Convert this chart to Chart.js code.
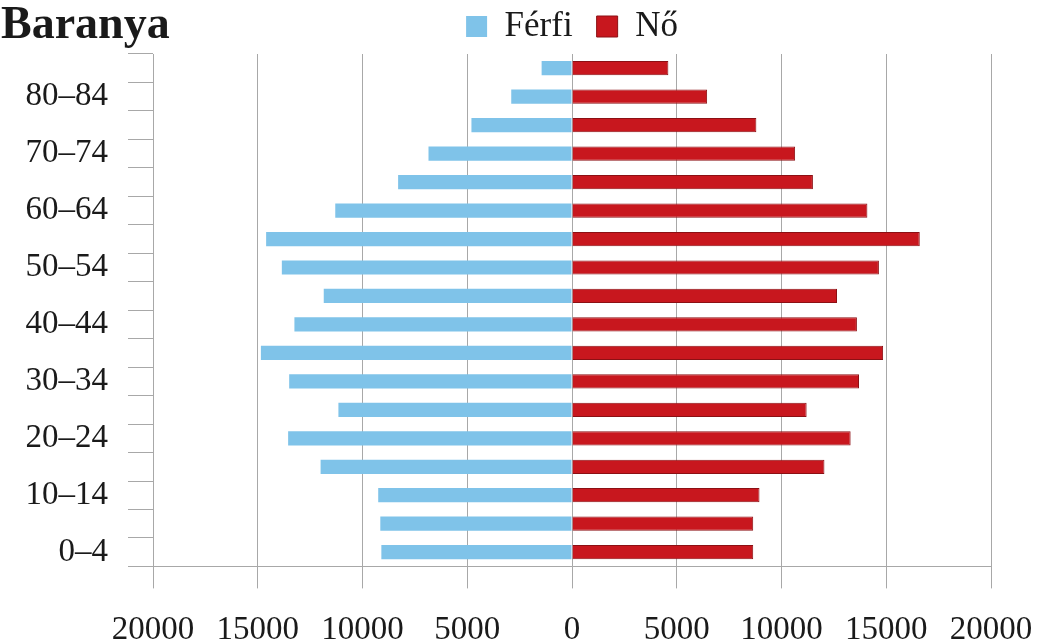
<!DOCTYPE html>
<html>
<head>
<meta charset="utf-8">
<script src="https://cdn.jsdelivr.net/npm/chart.js@4/dist/chart.umd.min.js"></script>
<style>
  html, body { margin: 0; padding: 0; background: #fff; }
  #wrap { width: 1043px; height: 644px; }
</style>
</head>
<body>
<div id="wrap"><canvas id="myChart" width="1043" height="644"></canvas></div>
<script>
const ageGroups = ["0–4", "5–9", "10–14", "15–19", "20–24", "25–29", "30–34", "35–39",
  "40–44", "45–49", "50–54", "55–59", "60–64", "65–69", "70–74", "75–79", "80–84", "85+"];

const men = [9100, 9150, 9250, 12000, 13550, 11150, 13500, 14850,
  13250, 11850, 13850, 14600, 11300, 8300, 6850, 4800, 2900, 1450];

const women = [8650, 8650, 8950, 12050, 13300, 11200, 13700, 14850,
  13600, 12650, 14650, 16600, 14100, 11500, 10650, 8800, 6450, 4600];

const xTicks = [-20000, -15000, -10000, -5000, 0, 5000, 10000, 15000, 20000];

const serif = "'Liberation Serif', 'Times New Roman', serif";
const gridGrey = "#a8a8a8";

// title sits on the same row as the legend, so it is drawn by hand
const titlePlugin = {
  id: "baranyaTitle",
  afterDraw(chart) {
    const ctx = chart.ctx;
    ctx.save();
    ctx.font = "bold 46px " + serif;
    ctx.fillStyle = "#1a1a1a";
    ctx.textAlign = "left";
    ctx.textBaseline = "alphabetic";
    ctx.fillText("Baranya", 1, 38);
    ctx.restore();
  }
};

const data = {
  labels: ageGroups,
  datasets: [
    {
      label: "Férfi",
      data: men.map(v => -v),
      backgroundColor: "#7fc3e9",
      borderWidth: 0,
      barPercentage: 0.5,
      categoryPercentage: 1.0,
    },
    {
      label: "Nő",
      data: women,
      backgroundColor: "#c8171e",
      borderColor: "#8c1014",
      borderWidth: 1,
      borderSkipped: "left",
      barPercentage: 0.5,
      categoryPercentage: 1.0,
    },
  ],
};

const config = {
  type: "bar",
  data: data,
  options: {
    responsive: false,
    animation: false,
    indexAxis: "y",
    layout: { padding: { top: -15, right: 0, bottom: -28, left: 0 } },
    plugins: {
      title: { display: false },
      tooltip: {
        callbacks: { label: (c) => c.dataset.label + ": " + Math.abs(c.raw) }
      },
      legend: {
        display: true,
        position: "top",
        fullSize: false,
        labels: {
          boxWidth: 21,
          boxHeight: 21,
          padding: 24,
          color: "#1a1a1a",
          font: { family: serif, size: 35 },
        },
      },
    },
    scales: {
      x: {
        stacked: true,
        min: -20000,
        max: 20000,
        afterBuildTicks: (scale) => { scale.ticks = xTicks.map(v => ({ value: v })); },
        afterFit: (scale) => { scale.paddingRight = 52; scale.paddingLeft = 0; },
        ticks: {
          callback: (v) => String(Math.abs(v)),
          color: "#1a1a1a",
          font: { family: serif, size: 33 },
          padding: 22,
          maxRotation: 0,
          autoSkip: false,
        },
        grid: {
          color: gridGrey,
          lineWidth: 1,
          tickLength: 22,
          drawOnChartArea: true,
        },
        border: { display: true, color: gridGrey },
      },
      y: {
        stacked: true,
        reverse: true,
        offset: true,
        afterFit: (scale) => { scale.width = 153; },
        ticks: {
          autoSkip: false,
          callback: (v, i) => (i % 2 === 0 ? ageGroups[i] : ""),
          color: "#1a1a1a",
          font: { family: serif, size: 33 },
          padding: 20,
        },
        grid: {
          offset: true,
          drawOnChartArea: true,
          tickLength: 25,
          color: (c) => (c.index === 0 || c.index === ageGroups.length ? gridGrey : "rgba(0,0,0,0)"),
          tickColor: gridGrey,
        },
        border: { display: true, color: gridGrey },
      },
    },
  },
  plugins: [titlePlugin],
};

const myChart = new Chart(document.getElementById("myChart"), config);
</script>
</body>
</html>
